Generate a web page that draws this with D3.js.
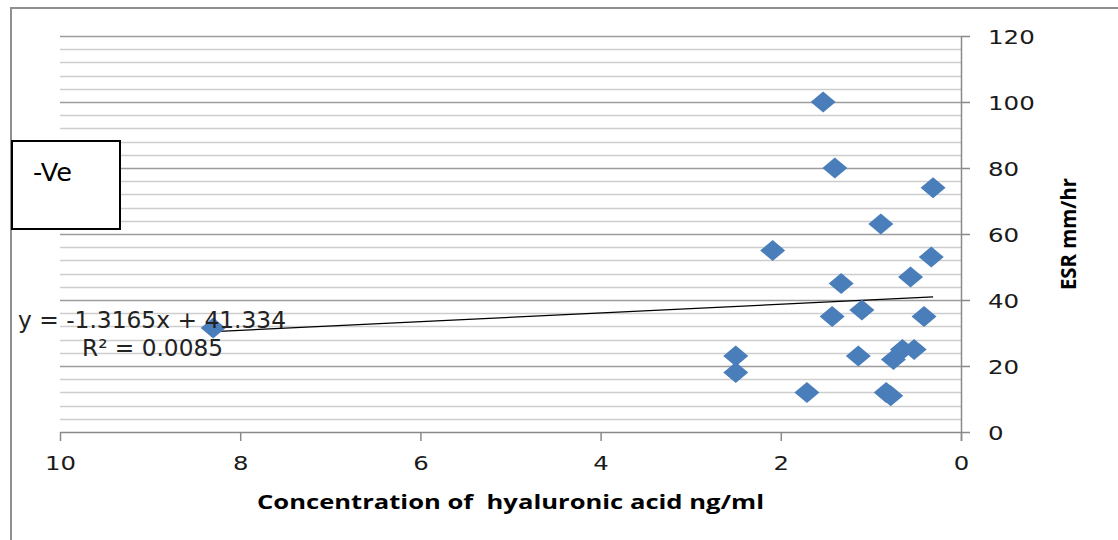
<!DOCTYPE html>
<html>
<head>
<meta charset="utf-8">
<script src="https://cdn.jsdelivr.net/npm/d3@7"></script>
<style>
  html, body { margin: 0; padding: 0; background: #fff; }
  svg { display: block; }
</style>
</head>
<body>
<svg id="chart" width="1118" height="540"></svg>
<script>
// ---- data ----
const concentration = [1.53, 1.40, 0.31, 0.89, 2.09, 0.33, 0.56, 1.33, 1.10, 1.43, 0.41, 8.30, 2.50, 2.50, 1.14, 0.75, 0.65, 0.52, 1.71, 0.83, 0.78];
const esr           = [100,  80,   74,   63,   55,   53,   47,   45,   37,   35,   35,   31.5, 23,   18,   23,   22,   25,   25,   12,   12,   11];
const xTickValues = [10, 8, 6, 4, 2, 0];
const yTickValues = [0, 20, 40, 60, 80, 100, 120];
const trendSlope = -1.3165;
const trendIntercept = 41.334;
const trendEquation = "y = -1.3165x + 41.334";
const trendR2 = "R² = 0.0085";
const legendLabel = "-Ve";
const xTitle = "Concentration of  hyaluronic acid ng/ml";
const yTitle = "ESR mm/hr";

// ---- layout ----
const svg = d3.select("#chart");
const x = d3.scaleLinear().domain([10, 0]).range([60, 961]);
const y = d3.scaleLinear().domain([0, 120]).range([432, 36]);

// chart border (extends past the right and bottom edge)
svg.append("path")
  .attr("d", "M11,545 L11,8 L1125,8")
  .attr("fill", "none").attr("stroke", "#8f8f8f").attr("stroke-width", 2);

// gridlines every 4, majors every 20
const gridVals = d3.range(4, 121, 4);
svg.append("g").selectAll("line").data(gridVals).join("line")
  .attr("x1", x(10)).attr("x2", x(0))
  .attr("y1", d => Math.round(y(d)) + 0.5).attr("y2", d => Math.round(y(d)) + 0.5)
  .attr("stroke", d => d % 20 === 0 ? "#9c9c9c" : "#cdcdcd")
  .attr("stroke-width", 1.5);

// x axis (bottom)
const xAxis = svg.append("g")
  .attr("transform", `translate(0,${y(0)})`)
  .call(d3.axisBottom(x).tickValues(xTickValues).tickSize(9).tickSizeOuter(0).tickFormat(d3.format("d")));
xAxis.select(".domain").attr("stroke", "#8a8a8a").attr("stroke-width", 1.5);
xAxis.selectAll(".tick line").attr("stroke", "#8a8a8a").attr("stroke-width", 1.5);
xAxis.selectAll(".tick text")
  .attr("y", 24).attr("dy", "0.71em")
  .attr("font-family", "DejaVu Sans").attr("font-size", 20).attr("fill", "#1a1a1a")
  .attr("textLength", d => String(d).length * 15.5)
  .attr("lengthAdjust", "spacingAndGlyphs");

// y axis (right side)
const yAxis = svg.append("g")
  .attr("transform", `translate(${x(0)},0)`)
  .call(d3.axisRight(y).tickValues(yTickValues).tickSize(9).tickSizeOuter(0));
yAxis.select(".domain").attr("stroke", "#8a8a8a").attr("stroke-width", 1.5)
  .attr("d", `M0.5,${y(120)}V${y(0) + 9}`);
yAxis.selectAll(".tick line").attr("stroke", "#8a8a8a").attr("stroke-width", 1.5);
yAxis.selectAll(".tick text")
  .attr("x", 27).attr("dy", "0.36em")
  .attr("font-family", "DejaVu Sans").attr("font-size", 20).attr("fill", "#1a1a1a")
  .attr("textLength", d => String(d).length * 15.6)
  .attr("lengthAdjust", "spacingAndGlyphs");

// trendline
const xMin = d3.min(concentration), xMax = d3.max(concentration);
svg.append("line")
  .attr("x1", x(xMax)).attr("y1", y(trendSlope * xMax + trendIntercept))
  .attr("x2", x(xMin)).attr("y2", y(trendSlope * xMin + trendIntercept))
  .attr("stroke", "#000").attr("stroke-width", 1.2);

// points (diamonds)
const pts = concentration.map((c, i) => ({ c, v: esr[i] }));
svg.append("g").selectAll("path").data(pts).join("path")
  .attr("transform", d => `translate(${x(d.c)},${y(d.v)})`)
  .attr("d", "M0,-10.5 L12.5,0 L0,10.5 L-12.5,0 Z")
  .attr("fill", "#4a7ebb");

// trend equation labels
svg.append("text")
  .attr("x", 18).attr("y", 328)
  .attr("font-family", "DejaVu Sans").attr("font-size", 23).attr("fill", "#222")
  .attr("textLength", 268).attr("lengthAdjust", "spacingAndGlyphs")
  .text(trendEquation);
svg.append("text")
  .attr("x", 82).attr("y", 356)
  .attr("font-family", "DejaVu Sans").attr("font-size", 23).attr("fill", "#222")
  .attr("textLength", 141).attr("lengthAdjust", "spacingAndGlyphs")
  .text(trendR2);

// legend-like box
svg.append("rect")
  .attr("x", 12).attr("y", 141).attr("width", 108).attr("height", 88)
  .attr("fill", "#fff").attr("stroke", "#000").attr("stroke-width", 2);
svg.append("text")
  .attr("x", 33).attr("y", 181)
  .attr("font-family", "DejaVu Sans").attr("font-size", 24).attr("fill", "#000")
  .attr("textLength", 39).attr("lengthAdjust", "spacingAndGlyphs")
  .text(legendLabel);

// axis titles
svg.append("text")
  .attr("x", (x(10) + x(0)) / 2).attr("y", 509)
  .attr("text-anchor", "middle")
  .style("white-space", "pre")
  .attr("font-family", "Open Sans").attr("font-weight", "bold").attr("font-size", 20).attr("fill", "#000")
  .attr("textLength", 507).attr("lengthAdjust", "spacingAndGlyphs")
  .text(xTitle);
svg.append("text")
  .attr("transform", `translate(1076,${(y(0) + y(120)) / 2}) rotate(-90)`)
  .attr("text-anchor", "middle")
  .attr("font-family", "Open Sans").attr("font-weight", "bold").attr("font-size", 22).attr("fill", "#000")
  .attr("textLength", 112).attr("lengthAdjust", "spacingAndGlyphs")
  .text(yTitle);
</script>
</body>
</html>
